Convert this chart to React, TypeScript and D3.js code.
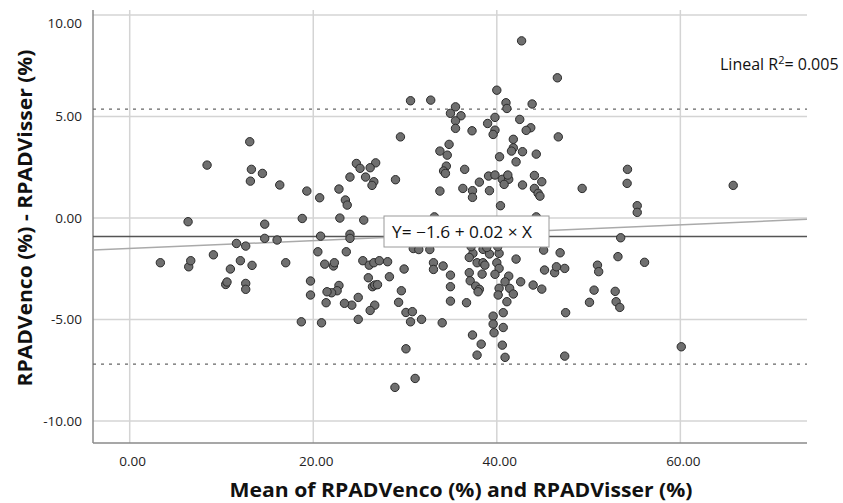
import React from "react";
import * as d3 from "d3";

const W = 843;
const H = 503;

// Bland-Altman data: [mean, difference]
const pointsMean: number[] = [
  6.36, 8.43, 13.08, 13.26, 13.15, 14.46, 16.35, 14.71, 14.71, 16.06, 11.63, 12.64,
  3.34, 6.43, 6.65, 9.12, 10.97, 12.06, 13.33, 10.46, 10.6, 12.64, 12.64, 17.0,
  18.8, 18.7, 19.3, 20.7, 22.9, 25.5, 20.8, 24.0, 24.0, 22.8, 23.5, 23.7,
  24.7, 25.1, 26.8, 26.2, 24.0, 25.7, 26.6, 26.4, 28.96, 29.5, 30.6, 20.5,
  23.6, 21.25, 22.2, 22.3, 25.4, 26.1, 26.6, 27.2, 28.1, 29.9, 28.3, 26.0,
  26.45, 26.7, 27.0, 26.7, 26.2, 24.9, 24.2, 23.4, 24.9, 22.8, 22.6, 22.0,
  21.5, 21.4, 19.7, 19.7, 20.9, 28.9, 29.3, 29.6,
  30.1, 30.8, 30.6, 31.8, 34.05, 30.1, 31.1, 30.9, 31.5, 32.7, 33.1, 33.1,
  34.15, 34.95, 34.95, 34.95, 32.8, 33.8, 34.8, 34.6, 34.5, 34.2, 34.4, 33.8, 33.2,
  35.5, 34.95, 36.1, 35.5, 35.5, 37.3, 39.8, 39.0, 39.8, 39.6, 40.0, 36.5,
  39.1, 39.8, 40.6, 38.1, 36.3, 37.35, 37.35, 39.2, 40.4, 40.3,
  37.4, 37.0, 38.5, 39.2, 40.25, 40.1, 38.9, 37.2,
  37.85, 38.5, 38.7, 38.4, 37.0, 37.1, 37.7, 38.1, 37.96, 40.0, 40.25, 39.8,
  40.25, 40.15, 36.7, 39.6, 39.6, 39.7, 37.35, 38.3, 37.85,
  41.0, 41.1, 43.85, 42.7, 42.5, 43.7, 43.2, 41.8, 41.8, 41.6, 42.8, 44.3,
  42.1, 41.3, 41.2, 40.8, 42.8, 44.1, 44.9, 44.1, 44.5, 44.7, 44.3, 42.1,
  45.1, 41.3, 40.9, 41.4, 41.8, 41.1, 42.6, 43.96, 44.9, 45.2, 40.7, 40.7,
  40.6, 40.9,
  46.6, 46.7, 46.9, 46.3, 46.5, 47.4, 47.5, 47.4, 49.3, 50.1, 50.6, 50.97, 51.1,
  54.24, 54.2, 55.3, 55.3, 65.76, 53.5, 53.2, 56.1, 52.9, 53.0, 53.4, 60.1,
];

const pointsDiff: number[] = [
  -0.18, 2.61, 3.76, 2.4, 1.82, 2.2, 1.63, -0.3, -1.0, -1.08, -1.25, -1.38,
  -2.2, -2.4, -2.1, -1.81, -2.51, -2.1, -2.33, -3.27, -3.15, -3.22, -3.51, -2.2,
  -0.02, -5.11, 1.33, 1.0, 0.0, -0.1, -0.89, -0.8, -1.0, 1.43, 0.89, 0.64,
  2.69, 2.45, 2.72, 2.48, 2.02, 2.02, 1.79, 1.61, 1.89, 4.0, 5.78, -1.66,
  -1.66, -2.27, -2.36, -2.2, -2.1, -2.32, -2.2, -2.1, -2.15, -2.51, -2.89, -2.94,
  -3.38, -3.3, -3.28, -4.29, -4.55, -3.91, -4.29, -4.2, -4.99, -3.32, -3.58, -3.68,
  -3.63, -4.17, -3.1, -3.79, -5.16, -8.34, -4.15, -3.58,
  -4.65, -4.61, -5.11, -4.99, -5.16, -6.44, -7.9, -1.5, -1.55, -1.55, -2.2, -2.53,
  -2.36, -2.81, -3.38, -4.09, 5.81, 3.3, 3.63, 3.1, 2.56, 2.32, 2.2, 1.33, 0.06,
  5.48, 5.16, 5.04, 4.79, 4.42, 4.3, 4.96, 4.66, 4.33, 4.12, 6.3, 2.4,
  2.07, 2.12, 1.91, 1.77, 1.46, 1.35, 1.02, 1.35, 0.61, 3.02,
  -1.74, -1.94, -1.54, -1.77, -1.74, -1.41, -1.45, -1.41,
  -2.2, -2.2, -2.32, -2.76, -2.69, -3.09, -3.35, -3.51, -3.63, -2.2, -2.48, -2.77,
  -3.46, -3.79, -4.17, -4.83, -5.22, -5.65, -5.76, -6.21, -6.75,
  5.68, 5.4, 5.62, 8.73, 4.86, 4.45, 4.32, 3.88, 3.46, 3.3, 3.27, 3.15,
  2.77, 1.91, 2.12, 1.66, 1.63, 2.1, 1.79, 1.46, 1.22, 1.08, 0.06, -2.02,
  -1.58, -2.86, -3.14, -3.46, -3.74, -4.12, -3.14, -3.3, -3.5, -2.56, -4.66, -5.39,
  -6.26, -6.86,
  6.91, 4.0, -1.71, -2.69, -2.4, -2.48, -4.66, -6.8, 1.46, -4.15, -3.55, -2.32, -2.64,
  2.4, 1.71, 0.61, 0.28, 1.61, -0.97, -1.9, -2.18, -3.61, -4.12, -4.4, -6.34,
];

const xTicks: number[] = [0, 20, 40, 60];
const yTicks: number[] = [10, 5, 0, -5, -10];

const meanDiff = -0.91;
const upperLoA = 5.37;
const lowerLoA = -7.19;
const regIntercept = -1.5;
const regSlope = 0.0195;

const xTitle = "Mean of RPADVenco (%) and RPADVisser (%)";
const yTitle = "RPADVenco (%) - RPADVisser (%)";
const fitLabel = "Y= \u22121.6 + 0.02 \u00d7 X";

const FONT = "'Open Sans', 'Noto Sans', sans-serif";

const fmt = (t: number) => t.toFixed(2);

export default function App() {
  const x = d3.scaleLinear().domain([-4, 73.8]).range([93, 807]);
  const y = d3.scaleLinear().domain([-11.08, 10.25]).range([443, 10]);
  const [x0, x1] = x.range();
  const [yB, yT] = y.range();
  const [dx0, dx1] = x.domain();

  const regLine = d3.line<number>()
    .x((d) => x(d))
    .y((d) => y(regIntercept + regSlope * d));

  return (
    <svg
      width={W}
      height={H}
      style={{ position: "absolute", left: 0, top: 0, background: "#fff" }}
      fontFamily={FONT}
    >
      <rect x={0} y={0} width={W} height={H} fill="#fff" />
      {/* gridlines */}
      {yTicks.map((t) => (
        <line key={"gy" + t} x1={x0} x2={x1} y1={y(t)} y2={y(t)} stroke="#d4d4d4" strokeWidth={1.5} />
      ))}
      {xTicks.map((t) => (
        <line key={"gx" + t} x1={x(t)} x2={x(t)} y1={yT} y2={yB} stroke="#d4d4d4" strokeWidth={1.5} />
      ))}
      {/* axes */}
      <line x1={x0} x2={x0} y1={yT} y2={yB} stroke="#8a8a8a" strokeWidth={1.5} />
      <line x1={x0} x2={x1} y1={yB} y2={yB} stroke="#8a8a8a" strokeWidth={1.5} />

      {/* limits of agreement */}
      <line x1={x0} x2={x1} y1={y(upperLoA)} y2={y(upperLoA)} stroke="#666" strokeWidth={1.3} strokeDasharray="3 5" />
      <line x1={x0} x2={x1} y1={y(lowerLoA)} y2={y(lowerLoA)} stroke="#666" strokeWidth={1.3} strokeDasharray="3 5" />
      {/* mean difference */}
      <line x1={x0} x2={x1} y1={y(meanDiff)} y2={y(meanDiff)} stroke="#555" strokeWidth={1.5} />
      {/* regression line */}
      <path d={regLine([dx0, dx1]) || ""} stroke="#aaaaaa" strokeWidth={1.5} fill="none" />

      {/* points */}
      {pointsMean.map((m, i) => (
        <circle
          key={"p" + i}
          cx={x(m)}
          cy={y(pointsDiff[i])}
          r={4.2}
          fill="#6f6f6f"
          stroke="#2a2a2a"
          strokeWidth={1}
        />
      ))}

      {/* fit label box */}
      <rect x={384} y={216} width={165} height={31} fill="#fff" stroke="#9a9a9a" strokeWidth={1} />
      <text x={392} y={238} fontSize={16} fill="#111" textLength={140} lengthAdjust="spacingAndGlyphs">
        {fitLabel}
      </text>

      {/* R2 label */}
      <text x={720} y={70} fontSize={16} fill="#111">
        Lineal R<tspan dy={-6} fontSize={11}>2</tspan><tspan dy={6}>= 0.005</tspan>
      </text>

      {/* y tick labels */}
      {yTicks.map((t) => (
        <text
          key={"ty" + t}
          x={82}
          y={Math.max(y(t), 23)}
          dy="0.35em"
          textAnchor="end"
          fontSize={13.5}
          fill="#222"
        >
          {fmt(t)}
        </text>
      ))}
      {/* x tick labels */}
      {xTicks.map((t) => (
        <text key={"tx" + t} x={x(t) + 3} y={466} textAnchor="middle" fontSize={13.5} fill="#222">
          {fmt(t)}
        </text>
      ))}

      {/* axis titles */}
      <text x={461} y={497} textAnchor="middle" fontSize={20} fontWeight="bold" fill="#111" textLength={463} lengthAdjust="spacingAndGlyphs">
        {xTitle}
      </text>
      <text
        transform={`translate(32, 218) rotate(-90)`}
        textAnchor="middle"
        fontSize={19}
        fontWeight="bold"
        fill="#111"
        textLength={337}
        lengthAdjust="spacingAndGlyphs"
      >
        {yTitle}
      </text>
    </svg>
  );
}
